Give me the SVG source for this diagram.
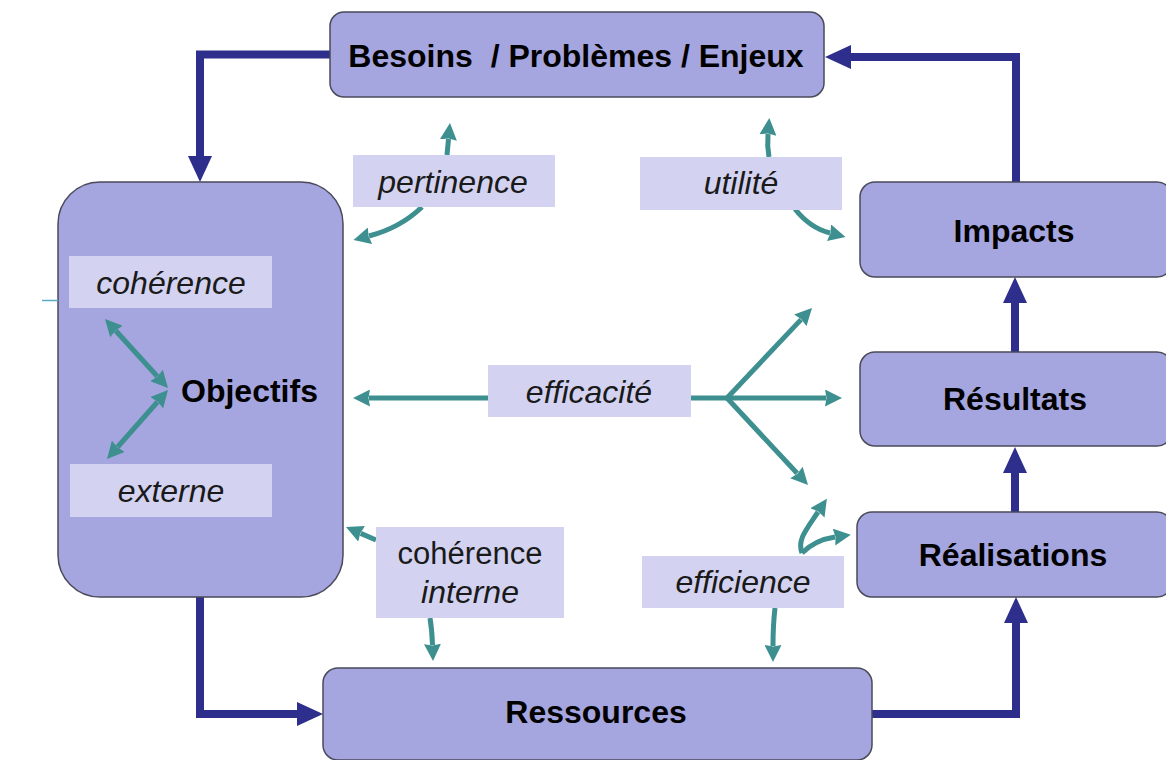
<svg xmlns="http://www.w3.org/2000/svg" width="1166" height="760" viewBox="0 0 1166 760">
<defs>
<style>
.node{fill:#A5A5DF;stroke:#4a4a5a;stroke-width:1.5}
.lbl{fill:#D3D3F1}
.bt{font-family:"Liberation Sans",Arial,sans-serif;font-weight:bold;font-size:32px;fill:#000;text-anchor:middle}
.it{font-family:"Liberation Sans",Arial,sans-serif;font-style:italic;font-size:32px;fill:#1a1a1a;text-anchor:middle}
.rt{font-family:"Liberation Sans",Arial,sans-serif;font-size:31px;fill:#1a1a1a;text-anchor:middle}
.flow{fill:none;stroke:#2E2E8C;stroke-width:8;stroke-linejoin:miter;marker-end:url(#ah)}
.tl{fill:none;stroke:#3E8F8F;stroke-width:5}
.te{marker-end:url(#th)}
.ts{marker-start:url(#th)}
</style>
<marker id="ah" markerUnits="userSpaceOnUse" markerWidth="26" markerHeight="24" viewBox="0 0 26 24" refX="1" refY="12" orient="auto">
<path d="M0,0 L26,12 L0,24 z" fill="#2E2E8C"/>
</marker>
<marker id="th" markerUnits="userSpaceOnUse" markerWidth="17" markerHeight="17" viewBox="0 0 17 17" refX="1" refY="8.5" orient="auto-start-reverse">
<path d="M0,0 L17,8.5 L0,17 L1.5,8.5 z" fill="#3E8F8F"/>
</marker>
</defs>

<g id="connectors">
<path class="flow" d="M330,54.5 H200 V157"/>
<path class="flow" d="M1016,182 V57 H850"/>
<path class="flow" d="M1015,352 V302"/>
<path class="flow" d="M1015,512 V472"/>
<path class="flow" d="M872,714 H1016 V622"/>
<path class="flow" d="M200,597 V714 H298"/>
</g>

<g id="node-besoins">
<rect class="node" x="330" y="12" width="494" height="85" rx="14"/>
<text class="bt" x="576" y="67" xml:space="preserve">Besoins  / Problèmes / Enjeux</text>
</g>
<g id="node-objectifs">
<rect class="node" x="58" y="182" width="285" height="415" rx="42"/>
<text class="bt" x="181" y="402" style="text-anchor:start">Objectifs</text>
</g>
<g id="node-impacts">
<rect class="node" x="860" y="182" width="312" height="95" rx="15"/>
<text class="bt" x="1014" y="242">Impacts</text>
</g>
<g id="node-resultats">
<rect class="node" x="860" y="352" width="312" height="94" rx="15"/>
<text class="bt" x="1015" y="410">Résultats</text>
</g>
<g id="node-realisations">
<rect class="node" x="857" y="512" width="315" height="85" rx="15"/>
<text class="bt" x="1013" y="566">Réalisations</text>
</g>
<g id="node-ressources">
<rect class="node" x="323" y="668" width="549" height="92" rx="15"/>
<text class="bt" x="596" y="723">Ressources</text>
</g>

<g id="teal-connectors">
<line x1="42" y1="300.5" x2="58" y2="300.5" stroke="#5AA8C8" stroke-width="1.5"/>
<path class="tl te" d="M447,155 L448.5,139"/>
<path class="tl te" d="M422,207 Q400,228 369,236"/>
<path class="tl te" d="M769,157 Q767,146 768,134"/>
<path class="tl te" d="M795,209 Q810,228 830,233"/>
<path class="tl te ts" d="M115.8,330.8 L157.2,376.2"/>
<path class="tl te ts" d="M157.4,402 L117.6,447"/>
<path class="tl te" d="M488,398 L369,398"/>
<path class="tl te" d="M690,398 L826,398"/>
<path class="tl te" d="M727,398 L801,319.6"/>
<path class="tl te" d="M727,398 L797.1,473.3"/>
<path class="tl te" d="M376,540 L360.7,533.4"/>
<path class="tl te" d="M430,618 Q432,630 432.5,645"/>
<path class="tl te" d="M775,608 Q773,625 773,646"/>
<path class="tl te" d="M802,553 C797,540 806,530 818,512"/>
<path class="tl te" d="M802,553 Q815,540 835,537"/>
</g>

<g id="label-pertinence">
<rect class="lbl" x="353" y="155" width="202" height="52"/>
<text class="it" x="453" y="193">pertinence</text>
</g>
<g id="label-utilite">
<rect class="lbl" x="640" y="157" width="202" height="53"/>
<text class="it" x="741" y="194">utilité</text>
</g>
<g id="label-coherence">
<rect class="lbl" x="69" y="256" width="203" height="52"/>
<text class="it" x="171" y="294">cohérence</text>
</g>
<g id="label-externe">
<rect class="lbl" x="70" y="464" width="202" height="53"/>
<text class="it" x="171" y="502">externe</text>
</g>
<g id="label-efficacite">
<rect class="lbl" x="488" y="365" width="203" height="52"/>
<text class="it" x="589" y="403">efficacité</text>
</g>
<g id="label-coherence-interne">
<rect class="lbl" x="376" y="527" width="188" height="91"/>
<text class="rt" x="470" y="564">cohérence</text>
<text class="it" x="470" y="603">interne</text>
</g>
<g id="label-efficience">
<rect class="lbl" x="642" y="556" width="202" height="52"/>
<text class="it" x="743" y="593">efficience</text>
</g>
</svg>
